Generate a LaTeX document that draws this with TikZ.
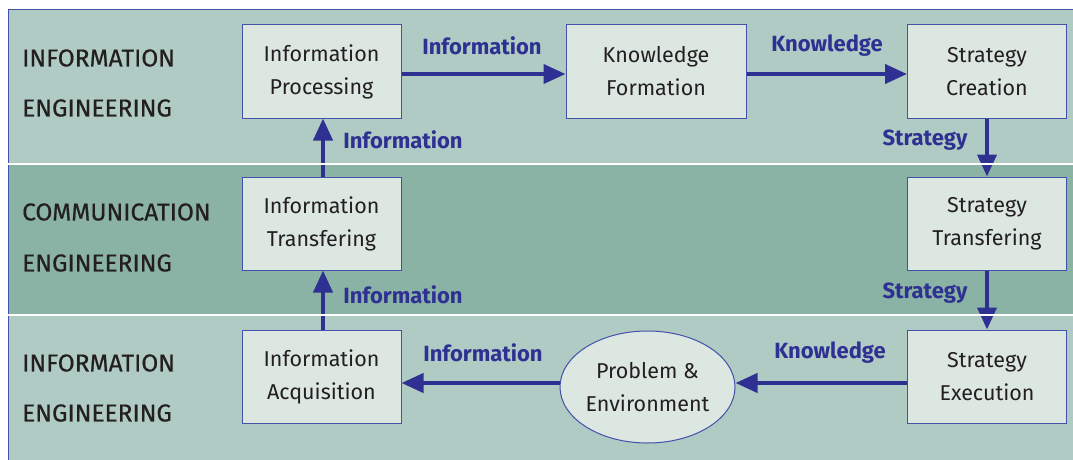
\documentclass[tikz,border=0pt]{standalone}
\usepackage{fontspec}
\setmainfont{Fira Sans}
\newfontfamily\sidefont[FakeBold=0.5]{Fira Sans}
\usetikzlibrary{arrows.meta,shapes.geometric}
\definecolor{bandlight}{HTML}{B0CBC3}
\definecolor{banddark}{HTML}{8AB3A5}
\definecolor{boxfill}{HTML}{DCE7E1}
\definecolor{boxline}{HTML}{4451A8}
\definecolor{arrowblue}{HTML}{2E3192}
\definecolor{txt}{HTML}{231F20}
\tikzset{
  procbox/.style={draw=boxline, line width=1pt, fill=boxfill, minimum width=159pt, minimum height=93pt, inner sep=0pt, align=center, font=\fontsize{21.5}{33}\selectfont, text=txt},
  envell/.style={draw=boxline, line width=1pt, fill=boxfill, ellipse, minimum width=175pt, minimum height=112pt, inner sep=0pt, align=center, font=\fontsize{21.5}{33}\selectfont, text=txt},
  flow/.style={draw=arrowblue, line width=4pt, -{Triangle[length=22pt,width=19pt]}},
  flowlabel/.style={text=arrowblue, font=\fontsize{22}{24}\selectfont\bfseries, inner sep=0pt},
  sidelabel/.style={text=txt, font=\sidefont\fontsize{24.5}{27}\selectfont, anchor=west, inner sep=0pt}
}
\begin{document}
\begin{tikzpicture}[x=1pt,y=-1pt]
\useasboundingbox (0,0) rectangle (1073,460);
\fill[white] (0,0) rectangle (1073,460);
% bands
\fill[bandlight] (8,10) rectangle (1090,163);
\fill[banddark] (8,165) rectangle (1090,314);
\fill[bandlight] (8,316) rectangle (1090,470);
\draw[boxline, line width=1pt] (1090,10) -- (8,10) -- (8,470);
% side labels
\node[sidelabel] (l1a) at (22,58) {INFORMATION};
\node[sidelabel] (l1b) at (22,108) {ENGINEERING};
\node[sidelabel] (l2a) at (22,212) {COMMUNICATION};
\node[sidelabel] (l2b) at (22,263) {ENGINEERING};
\node[sidelabel] (l3a) at (22,363) {INFORMATION};
\node[sidelabel] (l3b) at (22,413) {ENGINEERING};
% boxes
\node[procbox] (ip) at (321.5,71.5) {Information\\Processing};
\node[procbox, minimum width=180pt] (kf) at (656,71.5) {Knowledge\\Formation};
\node[procbox] (sc) at (987,71.5) {Strategy\\Creation};
\node[procbox] (it) at (321.5,223.5) {Information\\Transfering};
\node[procbox] (st) at (987,223.5) {Strategy\\Transfering};
\node[procbox] (ia) at (321.5,376.5) {Information\\Acquisition};
\node[procbox] (se) at (987,376.5) {Strategy\\Execution};
\node[envell] (pe) at (647.5,387) {Problem \&\\Environment};
% arrows
\draw[flow] (ip.east |- 0,74) -- (kf.west |- 0,74);
\draw[flow] (kf.east |- 0,74) -- (sc.west |- 0,74);
\draw[flow] (sc.south) -- (st.north);
\draw[flow] (st.south) -- (se.north);
\draw[flow] (se.west |- 0,383) -- (pe.east |- 0,383);
\draw[flow] (pe.west |- 0,383) -- (ia.east |- 0,383);
\draw[flow] (ia.north -| 323,0) -- (it.south -| 323,0);
\draw[flow] (it.north -| 323,0) -- (ip.south -| 323,0);
% flow labels
\node[flowlabel] (f1) at (482,46) {Information};
\node[flowlabel] (f2) at (827,46) {Knowledge};
\node[flowlabel] (f3) at (925,140) {Strategy};
\node[flowlabel] (f4) at (925,293) {Strategy};
\node[flowlabel] (f5) at (830,353) {Knowledge};
\node[flowlabel] (f6) at (483,353) {Information};
\node[flowlabel] (f7) at (403,140) {Information};
\node[flowlabel] (f8) at (403,295) {Information};
% band separators
\draw[white, line width=2pt] (8,164) -- (1090,164);
\draw[white, line width=2pt] (8,315) -- (1090,315);
\end{tikzpicture}
\end{document}
